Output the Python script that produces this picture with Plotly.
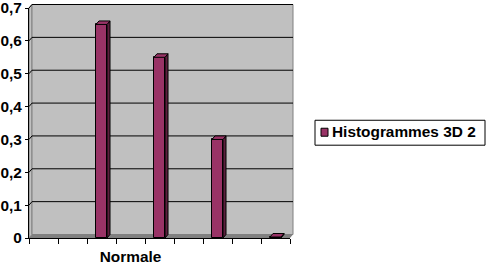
import plotly.graph_objects as go

categories = ["", "", "", "Normale", "", "", "", "", ""]
values = [0, 0, 0.65, 0, 0.55, 0, 0.30, 0, 0.003]
series_name = "Histogrammes 3D 2"
y_ticks = [0, 0.1, 0.2, 0.3, 0.4, 0.5, 0.6, 0.7]
y_ticktext = ["0", "0,1", "0,2", "0,3", "0,4", "0,5", "0,6", "0,7"]

W, H = 488, 269
L, R, T, B = 29, 198, 7.5, 31
PW, PH = W - L - R, H - T - B

BAR = "#993366"
SIDE = "#5c1f3d"
WALL = "#C0C0C0"
FLOOR = "#808080"
FAM = "Liberation Sans, Arial, Helvetica, sans-serif"
FS = 15.4

def px2x(px):
    return (px - L) / PW

def px2y(py):
    return (H - B - py) / PH

n = len(values)
ymax = y_ticks[-1]
depx, depy = 3, 3.5                 # 3D depth in px
ddx = depx * n / PW                 # in x data units
ddy = depy * ymax / PH              # in y data units
pdx, pdy = depx / PW, depy / PH     # in paper units
bw = 0.38

bx = [i for i, v in enumerate(values) if v > 0]
bv = [v for v in values if v > 0]

fig = go.Figure()
fig.add_trace(go.Bar(x=bx, y=bv, width=bw, name=series_name,
                     marker=dict(color=BAR, line=dict(color="black", width=1)),
                     showlegend=False))

shapes = []
# left wall
shapes.append(dict(type="path", xref="paper", yref="paper", layer="below",
                   path=f"M 0,0 L 0,1 L {pdx},{1+pdy} L {pdx},{pdy} Z",
                   fillcolor=WALL, line=dict(color=FLOOR, width=1)))
# back wall
shapes.append(dict(type="path", xref="paper", yref="paper", layer="below",
                   path=f"M {pdx},{pdy} L {pdx},{1+pdy} L {1+pdx},{1+pdy} L {1+pdx},{pdy} Z",
                   fillcolor=WALL, line=dict(color=FLOOR, width=1)))
# floor
shapes.append(dict(type="path", xref="paper", yref="paper", layer="below",
                   path=f"M 0,0 L 1,0 L {1+pdx},{pdy} L {pdx},{pdy} Z",
                   fillcolor=FLOOR, line=dict(color=FLOOR, width=0)))
# gridlines on walls
for t in y_ticks[1:]:
    yp = t / ymax
    shapes.append(dict(type="path", xref="paper", yref="paper", layer="below",
                       path=f"M 0,{yp} L {pdx},{yp+pdy} L {1+pdx},{yp+pdy}",
                       line=dict(color="black", width=1)))
# 3D bar faces
for x, v in zip(bx, bv):
    l, r = x - bw / 2, x + bw / 2
    shapes.append(dict(type="path", xref="x", yref="y",
                       path=f"M {r},0 L {r+ddx},{ddy} L {r+ddx},{v+ddy} L {r},{v} Z",
                       fillcolor=SIDE, line=dict(color="black", width=1)))
    shapes.append(dict(type="path", xref="x", yref="y",
                       path=f"M {l},{v} L {l+ddx},{v+ddy} L {r+ddx},{v+ddy} L {r},{v} Z",
                       fillcolor=BAR, line=dict(color="black", width=1)))

# legend (drawn manually to match the original box)
shapes.append(dict(type="rect", xref="paper", yref="paper",
                   x0=px2x(315), x1=px2x(485), y0=px2y(145), y1=px2y(120),
                   fillcolor="white", line=dict(color="black", width=1)))
shapes.append(dict(type="rect", xref="paper", yref="paper",
                   x0=px2x(321), x1=px2x(328), y0=px2y(136), y1=px2y(128),
                   fillcolor=BAR, line=dict(color="black", width=1)))
annotations = [dict(text=f"<b>{series_name}</b>", xref="paper", yref="paper",
                    x=px2x(330), y=px2y(131), xanchor="left", yanchor="middle",
                    showarrow=False, font=dict(family=FAM, size=FS, color="black"))]

fig.update_layout(
    width=W, height=H,
    margin=dict(l=L, r=R, t=T, b=B, autoexpand=False),
    paper_bgcolor="white", plot_bgcolor="rgba(0,0,0,0)",
    font=dict(family=FAM, size=FS, color="black"),
    bargap=0, showlegend=False,
    shapes=shapes, annotations=annotations,
    xaxis=dict(range=[-0.5, n - 0.5], showgrid=False, zeroline=False,
               automargin=False,
               tickvals=[i for i, c in enumerate(categories) if c],
               ticktext=[f"<b>{c}</b>" for c in categories if c],
               ticks="", showline=True, linecolor="black",
               ticklabelstandoff=5,
               minor=dict(tickvals=[i - 0.5 for i in range(n + 1)],
                          ticks="outside", ticklen=5, tickcolor="black"),
               tickfont=dict(size=FS)),
    yaxis=dict(range=[0, ymax * 1.0001], tickvals=y_ticks,
               automargin=False, ticklabeloverflow="allow",
               ticktext=[f"<b>{t}</b>" for t in y_ticktext],
               showgrid=False, zeroline=False, showline=True, linecolor="black",
               ticks="outside", ticklen=3, tickcolor="black",
               tickfont=dict(size=FS)),
)
fig.write_html("out.html")
